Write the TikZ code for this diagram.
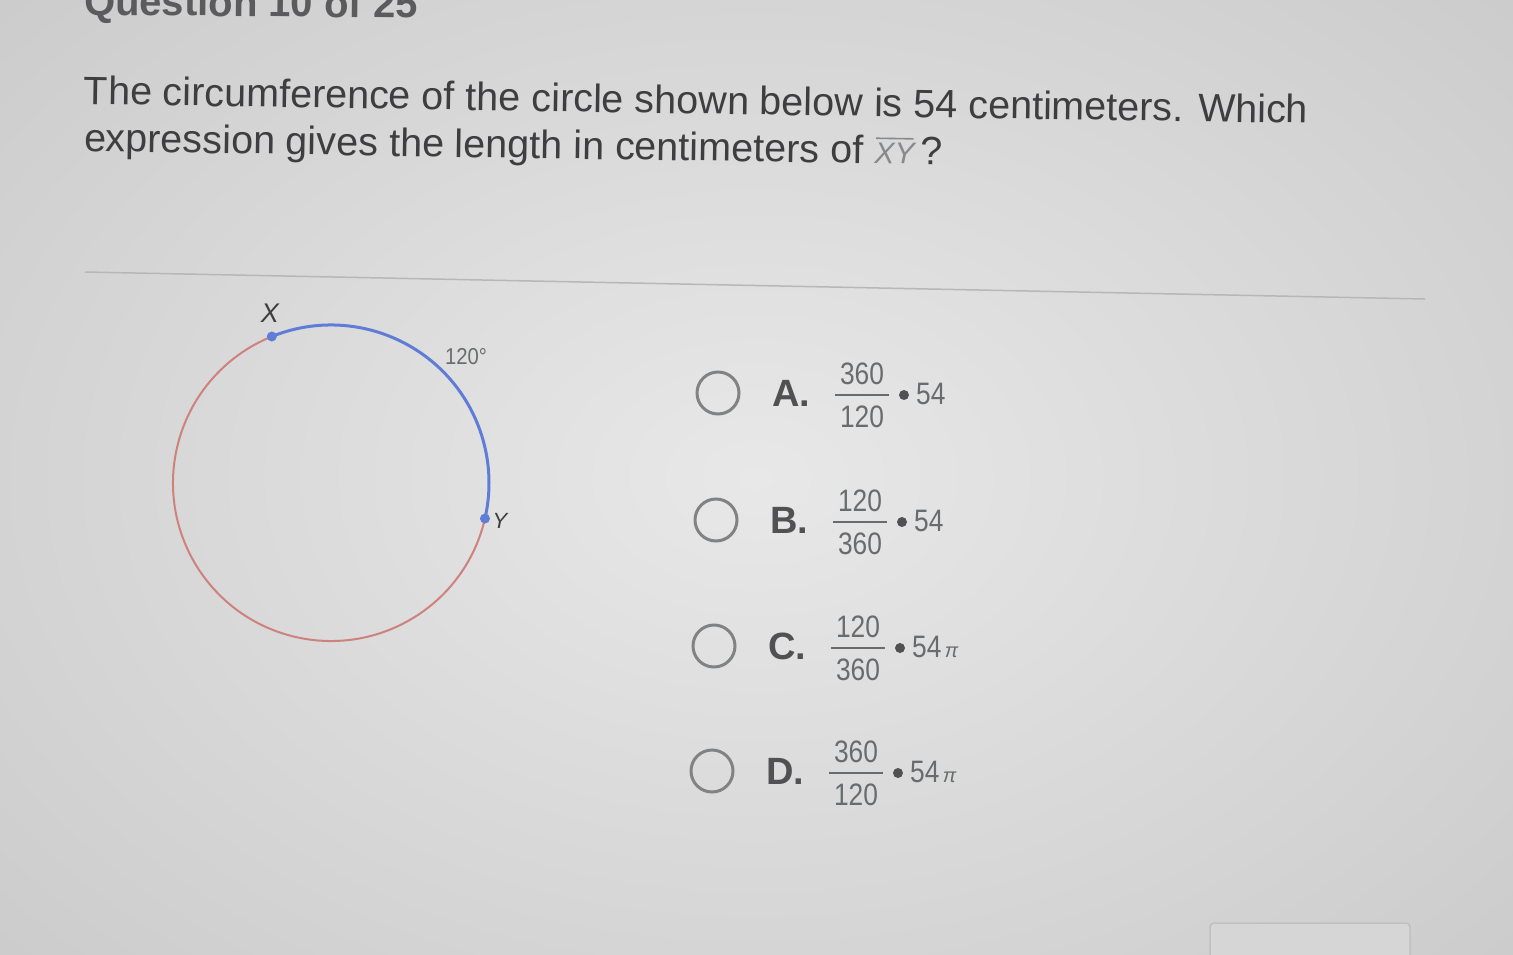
\documentclass[tikz,border=0pt]{standalone}
\usepackage{fontspec}
\setmainfont{Liberation Sans}
\usetikzlibrary{calc}
\definecolor{txt}{RGB}{62,62,64}
\definecolor{opt}{RGB}{105,108,110}
\definecolor{arcblue}{RGB}{95,125,215}
\definecolor{arcred}{RGB}{205,130,125}
\definecolor{bgmid}{RGB}{232,232,232}
\definecolor{bgedge}{RGB}{203,203,203}
\definecolor{btnfill}{RGB}{214,214,214}
\definecolor{btnline}{RGB}{192,192,192}
\tikzset{
  qtext/.style={anchor=west, inner sep=0pt, text=txt, font=\fontsize{39.5}{42}\selectfont, rotate=-0.9},
  radio/.style={circle, draw=opt!85, line width=3pt, minimum size=42pt, inner sep=0pt},
  letter/.style={inner sep=0pt, text=txt!90, font=\bfseries\fontsize{38}{40}\selectfont},
  num/.style={inner sep=0pt, text=opt, font=\fontsize{31}{32}\selectfont},
  ptdot/.style={circle, fill=arcblue, inner sep=0pt, minimum size=10pt},
  lbl/.style={inner sep=0pt, text=opt}
}
\begin{document}
\begin{tikzpicture}[x=1pt,y=-1pt]
\useasboundingbox (0,0) rectangle (1513,955);
\shade[inner color=bgmid, outer color=bgedge] (-300,-250) rectangle (1813,1205);
% header (cut off)
\node[anchor=base west, inner sep=0pt, text=txt!85, font=\bfseries\fontsize{40}{44}\selectfont, rotate=-0.5] (hdr) at (84,15) {Question 10 of 25};
% question text
\node[qtext] (q1) at (84,90) {The circumference of the circle shown below is 54 centimeters. Which};
\node[qtext] (q2) at (84,141) {expression gives the length in centimeters of \textcolor{opt!80}{\fontsize{30}{32}\selectfont\ooalign{\itshape XY\cr\hidewidth\rule[0.82em]{1.25em}{1.6pt}\hidewidth\cr}}\,?};
% separator
\coordinate (s1) at (85,272);
\coordinate (s2) at (1425,299);
\draw[line width=1.5pt, bgedge!90!black] (s1) -- (s2);
% circle (y axis points down, so angles are mirrored)
\coordinate (O) at (331,483);
\draw[arcred, line width=2pt] ($(O)+(13:158)$) arc[start angle=13, end angle=248, radius=158];
\draw[arcblue, line width=3pt] ($(O)+(-112:158)$) arc[start angle=-112, end angle=13, radius=158];
\node[ptdot] (X) at ($(O)+(-112:158)$) {};
\node[ptdot] (Y) at ($(O)+(13:158)$) {};
\node[lbl, font=\itshape\fontsize{27}{28}\selectfont, text=txt] (xl) at (270,313) {X};
\node[lbl, font=\itshape\fontsize{22}{24}\selectfont, text=txt] (yl) at (500,521) {Y};
\node[lbl, font=\fontsize{23}{24}\selectfont] (ang) at (466,357) {\scalebox{0.88}[1]{120°}};
% options
\foreach \i/\rx/\ry/\L/\n/\d/\pp in {A/718/393/A./360/120/{}, B/716/520/B./120/360/{}, C/714/646/C./120/360/{\,\textit{π}}, D/712/771/D./360/120/{\,\textit{π}}}{
  \node[radio] (r\i) at (\rx,\ry) {};
  \node[letter, anchor=west] (l\i) at ($(r\i)+(54,0)$) {\L};
  \coordinate (f\i) at ($(r\i)+(144,2)$);
  \node[num] (n\i) at ($(f\i)+(0,-21)$) {\scalebox{0.85}[1]{\n}};
  \node[num] (d\i) at ($(f\i)+(0,22)$) {\scalebox{0.85}[1]{\d}};
  \draw[opt, line width=1.5pt] ($(f\i)+(-27,0)$) -- ($(f\i)+(27,0)$);
  \node[circle, fill=txt!90, inner sep=0pt, minimum size=10pt] (b\i) at ($(f\i)+(42,0)$) {};
  \node[num, anchor=west] (v\i) at ($(b\i)+(12,-1)$) {\scalebox{0.85}[1]{54}{\fontsize{20}{20}\selectfont\pp}};
}
% submit button (cut off)
\node[draw=btnline, line width=1.5pt, fill=btnfill, rounded corners=4pt, minimum width=200pt, minimum height=66pt, inner sep=0pt] (btn) at (1310,956) {};
\end{tikzpicture}
\end{document}
